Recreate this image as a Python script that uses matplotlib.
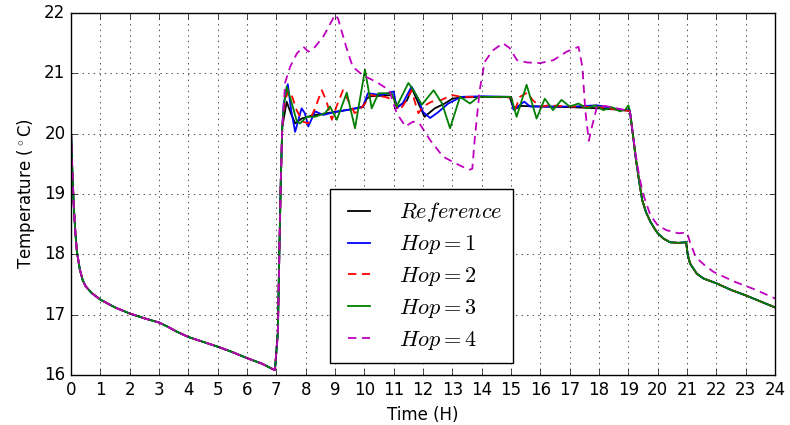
import matplotlib
matplotlib.use('Agg')
import matplotlib.pyplot as plt

# night cool-down, same for every run
t_night = [0, 0.05, 0.1, 0.15, 0.2, 0.3, 0.4, 0.5, 0.7, 1, 1.5, 2, 2.5, 3, 3.3, 3.6,
           4, 4.5, 5, 5.5, 6, 6.5, 6.95, 7.05, 7.1, 7.15, 7.2]
T_night = [20.05, 19.3, 18.75, 18.35, 18.05, 17.75, 17.57, 17.47, 17.36, 17.25, 17.12,
           17.02, 16.94, 16.87, 16.8, 16.72, 16.63, 16.55, 16.47, 16.38, 16.28, 16.19,
           16.08, 16.7, 18.0, 19.2, 20.1]

# evening cool-down (reference, hop 1-3)
t_eve = [19.05, 19.15, 19.25, 19.37, 19.47, 19.6, 19.75, 19.9, 20, 20.2, 20.42, 20.7,
         20.97, 21.02, 21.1, 21.33, 21.56, 22, 22.5, 23, 23.5, 24]
T_eve = [20.38, 20.0, 19.6, 19.2, 18.9, 18.7, 18.54, 18.42, 18.35, 18.26, 18.2, 18.19,
         18.2, 18.0, 17.85, 17.68, 17.6, 17.52, 17.41, 17.32, 17.22, 17.12]

# evening cool-down for hop 4
t_eve4 = [19.05, 19.15, 19.25, 19.37, 19.5, 19.75, 20.0, 20.3, 20.7, 21.0, 21.1, 21.3,
          21.6, 21.9, 22.6, 23.3, 24]
T_eve4 = [20.38, 20.0, 19.65, 19.3, 19.0, 18.65, 18.48, 18.4, 18.35, 18.36, 18.2, 17.95,
          17.82, 17.71, 17.55, 17.42, 17.27]

# daytime parts
t_ref = [7.35, 7.5, 7.64, 7.86, 8.2, 8.6, 9.0, 9.5, 9.95, 10.08, 10.2, 10.65, 10.93,
         11.04, 11.12, 11.3, 11.45, 11.62, 11.8, 12.05, 12.4, 12.74, 13.0, 13.3, 14,
         14.95, 15.1, 15.35, 16, 17, 18, 18.6, 19.0]
T_ref = [20.53, 20.33, 20.17, 20.25, 20.3, 20.33, 20.36, 20.4, 20.44, 20.58, 20.62,
         20.63, 20.64, 20.56, 20.44, 20.5, 20.55, 20.75, 20.55, 20.28, 20.42, 20.5, 20.58,
         20.6, 20.61, 20.61, 20.4, 20.46, 20.45, 20.44, 20.42, 20.4, 20.38]

t_h1 = [7.25, 7.39, 7.5, 7.64, 7.86, 7.97, 8.09, 8.32, 8.6, 9.0, 9.5, 9.95, 10.12, 10.6,
        11.0, 11.1, 11.3, 11.61, 11.85, 12.0, 12.24, 12.5, 12.86, 13.3, 14, 15.0, 15.08,
        15.45, 15.65, 16.5, 17.13, 17.93, 18.5, 18.84, 19.0]
T_h1 = [20.5, 20.82, 20.4, 20.03, 20.42, 20.34, 20.12, 20.37, 20.31, 20.36, 20.4, 20.45,
        20.67, 20.64, 20.7, 20.42, 20.5, 20.78, 20.56, 20.36, 20.26, 20.35, 20.5, 20.61,
        20.62, 20.61, 20.4, 20.53, 20.45, 20.45, 20.45, 20.47, 20.42, 20.39, 20.4]

t_h2 = [7.3, 7.41, 7.55, 7.69, 7.9, 8.09, 8.3, 8.55, 8.7, 8.89, 9.05, 9.27, 9.45, 9.67,
        9.85, 10.02, 10.19, 10.7, 11.0, 11.16, 11.3, 11.5, 11.61, 11.72, 11.84, 12.0,
        12.29, 12.63, 12.98, 13.32, 14, 15.0, 15.15, 15.3, 15.55, 15.75, 15.99, 16.3,
        17, 18, 18.6, 19.0]
T_h2 = [20.55, 20.72, 20.6, 20.39, 20.2, 20.17, 20.4, 20.72, 20.55, 20.23, 20.45, 20.72,
        20.55, 20.34, 20.4, 20.5, 20.64, 20.61, 20.56, 20.39, 20.45, 20.61, 20.72, 20.53,
        20.34, 20.45, 20.53, 20.56, 20.64, 20.61, 20.61, 20.6, 20.42, 20.61, 20.68, 20.55,
        20.45, 20.47, 20.45, 20.44, 20.4, 20.38]

t_h3 = [7.25, 7.35, 7.5, 7.7, 7.81, 8.03, 8.32, 8.66, 8.83, 9.06, 9.4, 9.68, 10.02, 10.25,
        10.48, 10.93, 11.1, 11.5, 11.67, 11.96, 12.36, 12.65, 12.92, 13.26, 13.6, 13.89,
        14.5, 15.0, 15.19, 15.53, 15.87, 16.15, 16.43, 16.72, 17.0, 17.3, 17.58, 17.86,
        18.15, 18.43, 18.71, 18.9, 19.0]
T_h3 = [20.45, 20.78, 20.55, 20.2, 20.17, 20.28, 20.28, 20.34, 20.45, 20.23, 20.68, 20.09,
        21.06, 20.42, 20.67, 20.67, 20.45, 20.84, 20.72, 20.48, 20.72, 20.5, 20.09, 20.61,
        20.5, 20.61, 20.61, 20.61, 20.28, 20.81, 20.25, 20.58, 20.39, 20.56, 20.45, 20.5,
        20.42, 20.47, 20.39, 20.44, 20.37, 20.4, 20.47]

t_h4 = [7.3, 7.47, 7.7, 7.92, 8.09, 8.27, 8.6, 8.88, 9.0, 9.1, 9.38, 9.6, 9.94, 10.4,
        10.85, 11.1, 11.4, 11.66, 11.88, 12.23, 12.68, 13.1, 13.57, 13.68, 13.76, 13.93,
        14.1, 14.38, 14.72, 14.95, 15.2, 15.55, 16.0, 16.45, 16.9, 17.3, 17.43, 17.53,
        17.65, 17.76, 17.93, 18.2, 18.6, 19.0]
T_h4 = [20.85, 21.11, 21.33, 21.44, 21.36, 21.41, 21.61, 21.86, 21.97, 21.91, 21.44, 21.11,
        20.97, 20.86, 20.72, 20.34, 20.12, 20.2, 20.17, 19.9, 19.62, 19.51, 19.4, 19.42,
        19.9, 20.72, 21.19, 21.38, 21.5, 21.42, 21.22, 21.18, 21.17, 21.22, 21.36, 21.44,
        21.11, 20.39, 19.88, 20.12, 20.45, 20.46, 20.42, 20.38]

plt.style.use('classic')
fig = plt.figure(figsize=(7.9, 4.25), dpi=100)
ax = fig.add_axes([0.0899, 0.1176, 0.8912, 0.8518])

lw = 1.3
dash = (6, 4)
ax.plot(t_night + t_ref + t_eve, T_night + T_ref + T_eve, 'k-', lw=lw, label=r'$Reference$')
ax.plot(t_night + t_h1 + t_eve, T_night + T_h1 + T_eve, 'b-', lw=lw, label=r'$Hop=1$')
ax.plot(t_night + t_h2 + t_eve, T_night + T_h2 + T_eve, 'r--', lw=lw, dashes=dash, label=r'$Hop=2$')
ax.plot(t_night + t_h3 + t_eve, T_night + T_h3 + T_eve, 'g-', lw=lw, label=r'$Hop=3$')
ax.plot(t_night + t_h4 + t_eve4, T_night + T_h4 + T_eve4, 'm--', lw=lw, dashes=dash, label=r'$Hop=4$')

ax.set_xlim(0, 24)
ax.set_ylim(16, 22)
ax.set_xticks(range(0, 25))
ax.set_yticks(range(16, 23))
ax.grid(True)
ax.set_xlabel('Time (H)')
ax.set_ylabel(r'Temperature ($^\circ$C)')
ax.legend(loc='lower left', bbox_to_anchor=(0.368, 0.033), borderaxespad=0, fontsize=16,
          labelspacing=0.4, handlelength=1.6, handletextpad=1.0, borderpad=0.5)

fig.savefig('out.png', dpi=100)
